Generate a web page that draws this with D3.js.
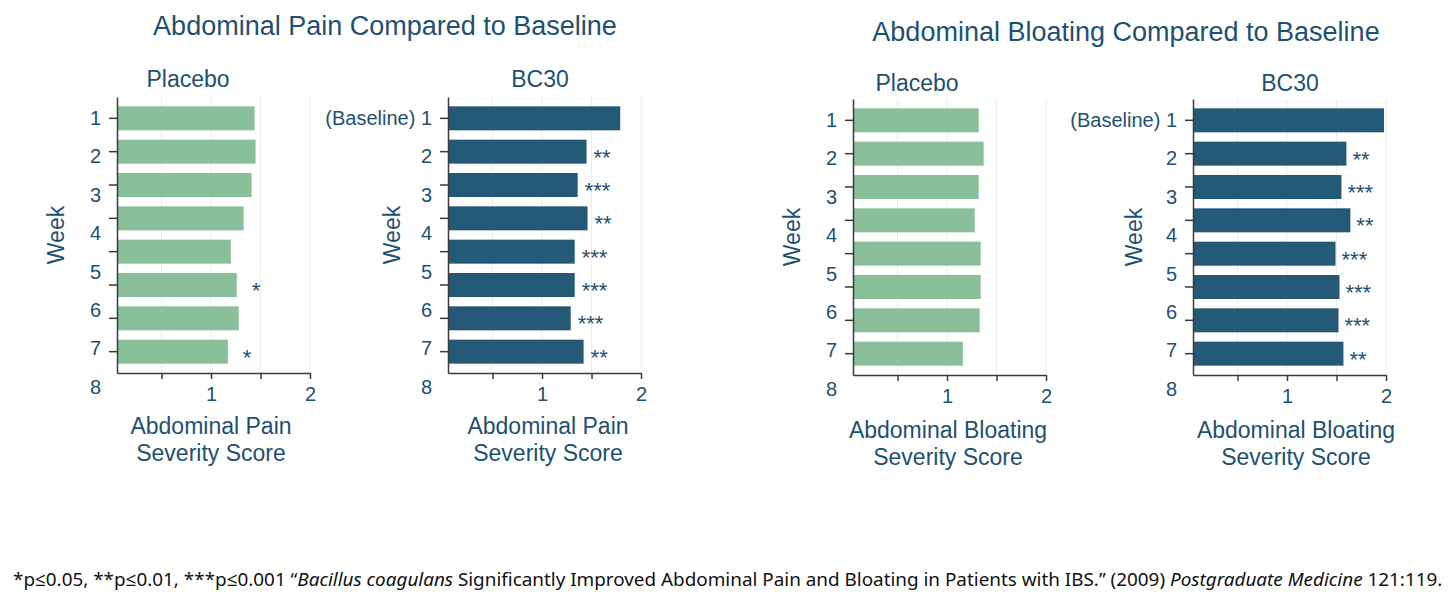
<!DOCTYPE html>
<html>
<head>
<meta charset="utf-8">
<script src="https://cdn.jsdelivr.net/npm/d3@7"></script>
<style>
  body { margin: 0; background: #fff; }
  svg text { font-family: "Liberation Sans", Arial, sans-serif; fill: #1f5070; }
  .axis path, .axis line { stroke: #3a3a3a; stroke-width: 1.5; }
  .axis text { font-size: 20px; fill: #1f5070; }
  .grid line { stroke: #ececec; stroke-width: 1; }
  .footnote { font-family: "Noto Sans", "Open Sans", sans-serif; fill: #111; }
</style>
</head>
<body>
<div id="chart"></div>
<script>

// weeks on the y axis (8 bars per panel)
var weeks = [1, 2, 3, 4, 5, 6, 7, 8];
var weekLabels = ["1", "2", "3", "4", "5", "6", "7", "8"];
var xTickValues = [0.5, 1, 1.5, 2];

// severity scores
var painPlacebo = [1.44, 1.45, 1.41, 1.33, 1.20, 1.26, 1.28, 1.17];
var painBC30 = [1.79, 1.45, 1.36, 1.46, 1.33, 1.33, 1.29, 1.42];
var bloatPlacebo = [1.32, 1.37, 1.32, 1.28, 1.34, 1.34, 1.33, 1.16];
var bloatBC30 = [1.98, 1.60, 1.55, 1.64, 1.49, 1.53, 1.52, 1.57];

// significance marks next to the bars
var painPlaceboSig = ["", "", "", "", "", "*", "", "*"];
var painBC30Sig = ["", "**", "***", "**", "***", "***", "***", "**"];
var bloatPlaceboSig = ["", "", "", "", "", "", "", ""];
var bloatBC30Sig = ["", "**", "***", "**", "***", "***", "***", "**"];

var GREEN = "#89c09b";
var NAVY = "#245a78";

var width = 1456, height = 612;

var svg = d3.select("#chart")
            .append("svg")
            .attr("width", width)
            .attr("height", height);

// group titles
svg.append("text")
   .attr("x", 385).attr("y", 35)
   .attr("text-anchor", "middle")
   .style("font-size", "27px")
   .text("Abdominal Pain Compared to Baseline");

svg.append("text")
   .attr("x", 1126).attr("y", 41)
   .attr("text-anchor", "middle")
   .style("font-size", "27px")
   .text("Abdominal Bloating Compared to Baseline");


var panels = [
  {values: painPlacebo, sig: painPlaceboSig, color: GREEN, baseline: false,
   axisX: 117, top: 97, bottom: 373, title: "Placebo", titleX: 188, titleY: 87,
   xTitle: ["Abdominal Pain", "Severity Score"], xTitleX: 211, xTitleY: 434,
   weekDx: 53, starGap: 15},
  {values: painBC30, sig: painBC30Sig, color: NAVY, baseline: true,
   axisX: 448, top: 97, bottom: 373, title: "BC30", titleX: 540, titleY: 87,
   xTitle: ["Abdominal Pain", "Severity Score"], xTitleX: 548, xTitleY: 434,
   weekDx: 48, starGap: 7},
  {values: bloatPlacebo, sig: bloatPlaceboSig, color: GREEN, baseline: false,
   axisX: 853, top: 99, bottom: 375, title: "Placebo", titleX: 917, titleY: 91,
   xTitle: ["Abdominal Bloating", "Severity Score"], xTitleX: 948, xTitleY: 438,
   weekDx: 53, starGap: 15},
  {values: bloatBC30, sig: bloatBC30Sig, color: NAVY, baseline: true,
   axisX: 1193, top: 99, bottom: 375, title: "BC30", titleX: 1290, titleY: 91,
   xTitle: ["Abdominal Bloating", "Severity Score"], xTitleX: 1296, xTitleY: 438,
   weekDx: 51, starGap: 6}
];


function drawPanel(p){

    var x = d3.scaleLinear()
              .domain([0.05, 2])
              .range([p.axisX, p.axisX + 193]);

    var y = d3.scaleBand()
              .domain(weeks)
              .range([p.top, p.bottom])
              .paddingInner(0.28)
              .paddingOuter(0.28);

    // tick labels are spread a bit wider than the bars
    var labels = weekLabels.map(function(d, i){ return (p.baseline && i == 0) ? "(Baseline) " + d : d; });
    var yLab = d3.scalePoint()
                 .domain(labels)
                 .range([p.top + 21, p.top + 290]);

    var g = svg.append("g");

    //light vertical grid
    g.append("g")
     .attr("class", "grid")
     .selectAll("line")
     .data(xTickValues)
     .enter()
     .append("line")
     .attr("x1", function(d){ return x(d); }).attr("x2", function(d){ return x(d); })
     .attr("y1", p.top).attr("y2", p.bottom);

    g.append("g")
     .selectAll("rect")
     .data(p.values)
     .enter()
     .append("rect")
     .attr("x", x(0.05))
     .attr("y", function(d, i){ return y(weeks[i]); })
     .attr("width", function(d){ return x(d) - x(0.05); })
     .attr("height", y.bandwidth())
     .attr("fill", p.color);

    g.append("g")
     .selectAll("text")
     .data(p.values)
     .enter()
     .append("text")
     .attr("x", function(d){ return x(d) + p.starGap; })
     .attr("y", function(d, i){ return y(weeks[i]) + y.bandwidth() / 2 + 13; })
     .style("font-size", "22px")
     .text(function(d, i){ return p.sig[i]; });

    // y axis : tick marks on the bars
    g.append("g")
     .attr("class", "axis")
     .attr("transform", "translate(" + p.axisX + ",0)")
     .call(d3.axisLeft(y).tickSize(8).tickSizeOuter(0).tickFormat(""));

    // y axis : week labels
    g.append("g")
     .attr("class", "axis")
     .attr("transform", "translate(" + (p.axisX - 16) + ",0)")
     .call(d3.axisLeft(yLab).tickSize(0).tickPadding(0))
     .call(function(a){ a.select(".domain").remove(); });

    // x axis
    g.append("g")
     .attr("class", "axis")
     .attr("transform", "translate(0," + p.bottom + ")")
     .call(d3.axisBottom(x)
             .tickValues(xTickValues)
             .tickSize(6)
             .tickSizeOuter(0)
             .tickPadding(8)
             .tickFormat(function(d){ return Number.isInteger(d) ? d : ""; }));

    g.append("text")
     .attr("x", p.titleX).attr("y", p.titleY)
     .attr("text-anchor", "middle")
     .style("font-size", "23px")
     .text(p.title);

    g.append("text")
     .attr("transform", "translate(" + (p.axisX - p.weekDx) + "," + ((p.top + p.bottom) / 2) + ") rotate(-90)")
     .attr("text-anchor", "middle")
     .style("font-size", "23px")
     .text("Week");

    g.append("text")
     .attr("x", p.xTitleX).attr("y", p.xTitleY)
     .attr("text-anchor", "middle")
     .style("font-size", "23px")
     .text(p.xTitle[0]);

    g.append("text")
     .attr("x", p.xTitleX).attr("y", p.xTitleY + 27)
     .attr("text-anchor", "middle")
     .style("font-size", "23px")
     .text(p.xTitle[1]);
}

panels.forEach(drawPanel);


// source line
var foot = svg.append("text")
              .attr("class", "footnote")
              .attr("x", 13).attr("y", 586)
              .style("font-size", "18px");

foot.append("tspan").text("*p\u22640.05, **p\u22640.01, ***p\u22640.001 \u201C");
foot.append("tspan").style("font-style", "italic").text("Bacillus coagulans");
foot.append("tspan").text(" Significantly Improved Abdominal Pain and Bloating in Patients with IBS.\u201D (2009) ");
foot.append("tspan").style("font-style", "italic").text("Postgraduate Medicine");
foot.append("tspan").text(" 121:119.");

// fit the line to the width it has in the picture
var len = foot.node().getComputedTextLength();
foot.style("font-size", (18 * 1430 / len) + "px");

</script>
</body>
</html>
